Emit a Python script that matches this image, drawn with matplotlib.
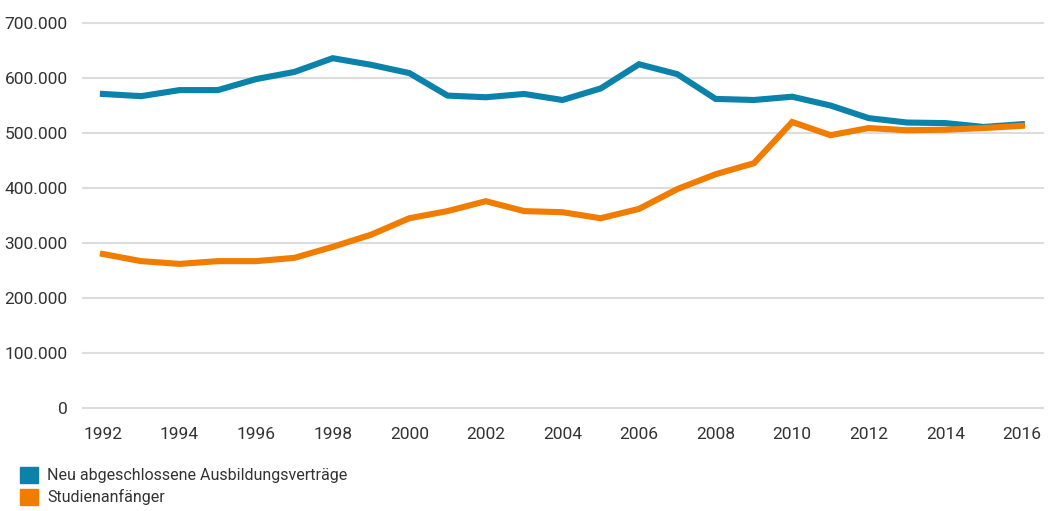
import matplotlib
matplotlib.use("Agg")
import matplotlib.pyplot as plt
from matplotlib.patches import Patch
from matplotlib.ticker import FuncFormatter

plt.rcParams['font.family'] = ['Roboto', 'DejaVu Sans']

years = list(range(1992, 2017))
ausbildung = [571000, 567000, 578000, 578000, 598000, 611000, 636000, 624000, 609000,
              568000, 565000, 571000, 560000, 581000, 625000, 607000, 562000, 560000,
              566000, 550000, 527000, 519000, 518000, 511000, 516000]
studienanfaenger = [280000, 267000, 262000, 267000, 267000, 273000, 293000, 315000, 345000,
                    358000, 376000, 358000, 356000, 345000, 362000, 398000, 425000, 445000,
                    520000, 496000, 509000, 505000, 506000, 509000, 513000]
labels = ['Neu abgeschlossene Ausbildungsverträge', 'Studienanfänger']
blue = '#0a82aa'
orange = '#f07d00'
text_col = '#333333'

fig = plt.figure(figsize=(10.49, 5.11), dpi=100)
ax = fig.add_axes([83 / 1049, 103 / 511, 960 / 1049, 385 / 511])

ax.plot(years, ausbildung, color=blue, lw=4.4, solid_joinstyle='miter', zorder=3)
ax.plot(years, studienanfaenger, color=orange, lw=4.4, solid_joinstyle='miter', zorder=3)

ax.set_xlim(1991.48, 2016.55)
ax.set_ylim(0, 700000)
ax.set_xticks(range(1992, 2017, 2))
ax.set_yticks(range(0, 700001, 100000))
ax.yaxis.set_major_formatter(FuncFormatter(lambda v, p: '{:,.0f}'.format(v).replace(',', '.')))

for s in ax.spines.values():
    s.set_visible(False)
ax.grid(axis='y', color='#dddddd', lw=1.5)
for gl in ax.get_ygridlines():
    gl.set_clip_on(False)
ax.set_axisbelow(True)
ax.tick_params(length=0, labelsize=12.5, labelcolor=text_col)
ax.tick_params(axis='y', pad=11)
ax.tick_params(axis='x', pad=14)

handles = [Patch(color=blue), Patch(color=orange)]
fig.legend(handles, labels, loc='upper left', bbox_to_anchor=(0.019, 0.087),
           frameon=False, fontsize=11.5, handlelength=1.1, handleheight=1.2,
           handletextpad=0.6, labelspacing=0.35, borderpad=0, borderaxespad=0,
           labelcolor=text_col)

fig.savefig('out.png', dpi=100, facecolor='white')
